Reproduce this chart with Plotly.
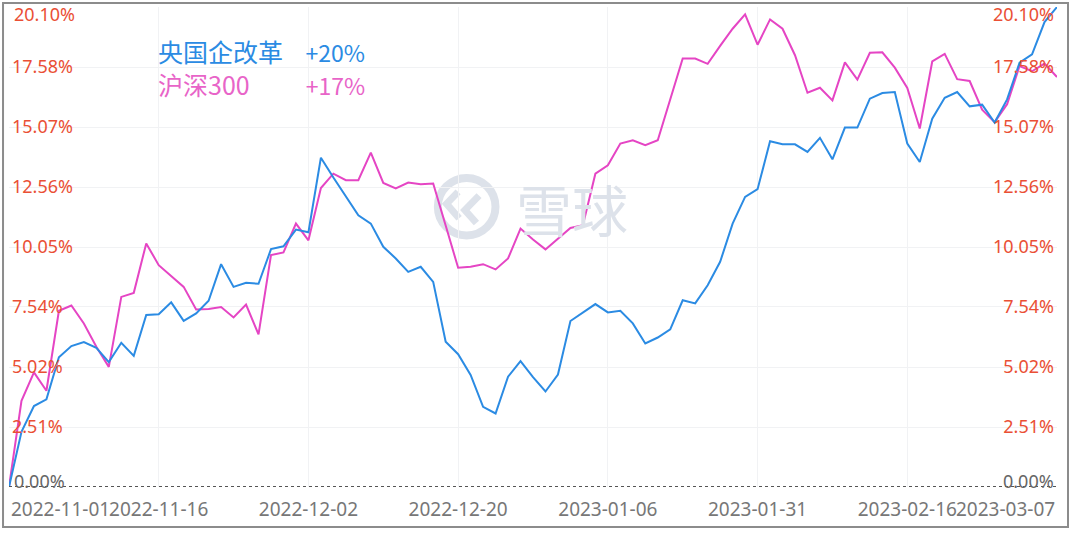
import plotly.graph_objects as go

# 央国企改革 vs 沪深300, cumulative return (%) per trading day
soe_reform = [0.00, 2.31, 3.39, 3.67, 5.43, 5.90, 6.07, 5.83, 5.23, 6.04,
              5.49, 7.20, 7.23, 7.73, 6.96, 7.27, 7.80, 9.33, 8.38, 8.55,
              8.51, 9.96, 10.08, 10.78, 10.67, 13.79, 12.96, 12.18, 11.38, 11.03,
              10.06, 9.57, 9.01, 9.22, 8.59, 6.08, 5.56, 4.69, 3.36, 3.08,
              4.62, 5.27, 4.60, 4.00, 4.71, 6.95, 7.31, 7.66, 7.31, 7.38,
              6.85, 6.01, 6.26, 6.60, 7.82, 7.69, 8.45, 9.43, 11.03, 12.15,
              12.47, 14.48, 14.35, 14.35, 14.03, 14.62, 13.72, 15.05, 15.05, 16.26,
              16.50, 16.54, 14.38, 13.61, 15.42, 16.30, 16.54, 15.94, 16.01, 15.26,
              16.23, 17.77, 18.12, 19.47, 20.10]
csi300 = [0.00, 3.61, 4.80, 4.03, 7.38, 7.60, 6.85, 5.87, 5.03, 7.96,
          8.13, 10.20, 9.29, 8.83, 8.38, 7.43, 7.45, 7.54, 7.10, 7.64,
          6.39, 9.71, 9.82, 11.03, 10.33, 12.52, 13.12, 12.85, 12.85, 14.00,
          12.73, 12.50, 12.75, 12.68, 12.71, 10.95, 9.18, 9.22, 9.33, 9.11,
          9.57, 10.82, 10.36, 9.95, 10.39, 10.85, 10.96, 13.12, 13.47, 14.38,
          14.52, 14.31, 14.52, 16.23, 17.94, 17.94, 17.72, 18.47, 19.19, 19.79,
          18.52, 19.58, 19.19, 18.08, 16.51, 16.72, 16.19, 17.78, 17.06, 18.18,
          18.20, 17.56, 16.71, 15.01, 17.82, 18.14, 17.08, 17.00, 15.80, 15.28,
          16.03, 17.63, 17.41, 17.73, 17.17]

date_labels = ["2022-11-01", "2022-11-16", "2022-12-02", "2022-12-20",
               "2023-01-06", "2023-01-31", "2023-02-16", "2023-03-07"]
date_step = 12
y_ticks = [0, 2.51, 5.02, 7.54, 10.05, 12.56, 15.07, 17.58, 20.10]

names = ["央国企改革", "沪深300"]
gains = ["+20%", "+17%"]

BLUE = "#2b8be3"
PINK = "#e545c4"
PINK_TXT = "#e864c8"
RED = "#ea4f35"
GREY = "#777777"
WM = "#dde2ea"

x = list(range(len(soe_reform)))
x_ticks = [i * date_step for i in range(len(date_labels))]
y_max = y_ticks[-1]

fig = go.Figure()
fig.add_trace(go.Scatter(x=x, y=csi300, mode="lines", name=names[1],
                         line=dict(color=PINK, width=2)))
fig.add_trace(go.Scatter(x=x, y=soe_reform, mode="lines", name=names[0],
                         line=dict(color=BLUE, width=2)))
# invisible trace just to carry the right hand axis
fig.add_trace(go.Scatter(x=[x[0], x[-1]], y=[0, y_max], mode="none",
                         yaxis="y2", showlegend=False, hoverinfo="skip"))

mid_y = y_ticks[1:-1]
mid_txt = ["%.2f%%" % v for v in mid_y]

fig.update_layout(
    width=1080, height=535,
    margin=dict(l=9, r=23, t=7, b=48),
    paper_bgcolor="white", plot_bgcolor="white",
    showlegend=False,
    font=dict(family="Noto Sans, Noto Sans CJK SC", size=17, color=GREY),
    xaxis=dict(range=[x[0], x[-1]], tickmode="array", tickvals=x_ticks,
               ticktext=[""] + date_labels[1:-1] + [""],
               showgrid=True, gridcolor="#f1f2f4", gridwidth=1,
               zeroline=False, showline=False, ticks="", ticklabelstandoff=9,
               tickfont=dict(size=19, color=GREY)),
    yaxis=dict(range=[0, y_max], tickmode="array", tickvals=mid_y,
               ticktext=mid_txt, ticklabelposition="inside",
               showgrid=True, gridcolor="#f1f2f4", zeroline=False,
               ticks="", tickfont=dict(size=18, color=RED)),
    yaxis2=dict(range=[0, y_max], overlaying="y", side="right",
                tickmode="array", tickvals=mid_y, ticktext=mid_txt,
                ticklabelposition="inside", showgrid=False, zeroline=False,
                ticks="", tickfont=dict(size=18, color=RED)),
)

# end labels that sit inside the plot edges
fig.add_annotation(x=x[0], y=0, xref="x", yref="paper", yshift=-7,
                   text=date_labels[0], showarrow=False, xanchor="left",
                   yanchor="top", font=dict(size=19, color=GREY))
fig.add_annotation(x=x[-1], y=0, xref="x", yref="paper", yshift=-7,
                   text=date_labels[-1], showarrow=False, xanchor="right",
                   yanchor="top", font=dict(size=19, color=GREY))
for xa, anc in [(0, "left"), (1, "right")]:
    fig.add_annotation(x=xa, y=0, xref="paper", yref="y", text="0.00%",
                       showarrow=False, xanchor=anc, yanchor="bottom",
                       xshift=3 if xa == 0 else -1, yshift=-8,
                       font=dict(size=18, color="#666666"))
    fig.add_annotation(x=xa, y=y_max, xref="paper", yref="y", text="%.2f%%" % y_max,
                       showarrow=False, xanchor=anc, yanchor="top",
                       xshift=3 if xa == 0 else -1, yshift=7,
                       font=dict(size=18, color=RED))

# legend block, one text: name column then gain column (padded with nbsp)
nb = "\u00a0"
pads = [4, 10]
rows = []
for nm, gn, col, p in zip(names, gains, [BLUE, PINK_TXT], pads):
    rows.append('<span style="color:%s">%s%s</span>'
                '<span style="color:%s;font-size:23px">%s</span>' % (col, nm, nb * p, col, gn))
fig.add_annotation(x=0.1405, y=0.875, xref="paper", yref="paper", text="<br>".join(rows),
                   showarrow=False, xanchor="left", yanchor="middle", align="left",
                   font=dict(family="Noto Sans CJK SC", size=25, color=BLUE))

# dotted zero line
fig.add_shape(type="line", xref="paper", yref="y", x0=0, x1=1, y0=0, y1=0,
              line=dict(color="#555555", width=2, dash="dot"))

# watermark 雪球
fig.add_annotation(x=0.537, y=0.583, xref="paper", yref="paper", text="雪球",
                   showarrow=False, font=dict(family="Noto Sans CJK SC", size=56, color=WM))
fig.add_shape(type="circle", xref="paper", yref="paper",
              x0=0.4367 - 0.0275, x1=0.4367 + 0.0275, y0=0.584 - 0.06, y1=0.584 + 0.06,
              line=dict(color=WM, width=8), layer="below")
fig.add_shape(type="path", xref="paper", yref="paper", layer="below",
              path="M 0.4285,0.615 L 0.4175,0.59 L 0.4295,0.56 "
                   "M 0.4485,0.607 L 0.435,0.577 L 0.446,0.55",
              line=dict(color=WM, width=7))

# outer frame
fig.add_shape(type="rect", xref="paper", yref="paper",
              x0=-0.0057, x1=1.0105, y0=-0.0833, y1=1.0083,
              line=dict(color="#8c8c8c", width=2))

fig.write_html("out.html", config={"displayModeBar": False},
               post_script="document.body.style.margin='0px';")
